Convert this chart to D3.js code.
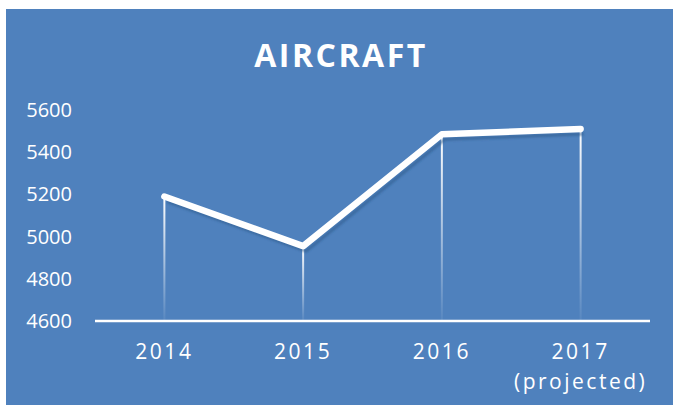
<!DOCTYPE html>
<html lang="en">
<head>
    <meta charset="UTF-8">
    <title>Aircraft</title>
    <script src="https://d3js.org/d3.v7.min.js"></script>
    <style>
        body { margin: 0; padding: 0; background: #fff; }
        svg { display: block; }
        text { font-family: "Open Sans", "Liberation Sans", sans-serif; fill: #fff; }
    </style>
</head>
<body>
    <svg width="673" height="405"></svg>
    <script>
        const years = ["2014", "2015", "2016", "2017"];
        const yearNotes = ["", "", "", "(projected)"];
        const aircraft = [5190, 4955, 5485, 5510];
        const yTicks = [4600, 4800, 5000, 5200, 5400, 5600];

        const svg = d3.select("svg");
        const margin = { top: 110, right: 23, bottom: 84, left: 95 };
        const width = 673 - margin.left - margin.right;
        const height = 405 - margin.top - margin.bottom;

        svg.append("rect")
            .attr("x", 6).attr("y", 9)
            .attr("width", 667).attr("height", 396)
            .attr("fill", "#4f81bd");

        svg.append("text")
            .attr("x", 341).attr("y", 67)
            .attr("text-anchor", "middle")
            .style("font-size", "32px")
            .style("font-weight", "bold")
            .style("letter-spacing", "2.5px")
            .text("AIRCRAFT");

        const defs = svg.append("defs");
        const grad = defs.append("linearGradient")
            .attr("id", "drop").attr("x1", 0).attr("y1", 0).attr("x2", 0).attr("y2", 1);
        grad.append("stop").attr("offset", "0%").attr("stop-color", "#fff").attr("stop-opacity", 1);
        grad.append("stop").attr("offset", "100%").attr("stop-color", "#fff").attr("stop-opacity", 0.05);
        defs.append("filter").attr("id", "blur")
            .append("feGaussianBlur").attr("stdDeviation", 1);

        const g = svg.append("g").attr("transform", `translate(${margin.left},${margin.top})`);

        const x = d3.scaleBand().domain(years).range([0, width]);
        const y = d3.scaleLinear().domain([4600, 5600]).range([height, 0]);

        const data = years.map((yr, i) => ({ year: yr, value: aircraft[i], note: yearNotes[i] }));

        // y axis labels
        const yAxis = g.append("g")
            .call(d3.axisLeft(y).tickValues(yTicks).tickFormat(d3.format("d")).tickSize(0).tickPadding(23));
        yAxis.select(".domain").remove();
        yAxis.selectAll("text")
            .attr("fill", "#fff")
            .style("font-size", "20px")
            .style("font-family", "'Open Sans', 'Liberation Sans', sans-serif");

        // drop lines
        g.selectAll(".drop")
            .data(data)
            .enter()
            .append("rect")
            .attr("x", d => x(d.year) + x.bandwidth() / 2 - 1)
            .attr("y", d => y(d.value))
            .attr("width", 2)
            .attr("height", d => height - y(d.value))
            .attr("fill", "url(#drop)");

        // x axis line
        g.append("line")
            .attr("x1", 0).attr("x2", width)
            .attr("y1", height).attr("y2", height)
            .attr("stroke", "#fff").attr("stroke-width", 2.5);

        // x labels
        const xl = g.selectAll(".xl")
            .data(data)
            .enter()
            .append("text")
            .attr("x", d => x(d.year) + x.bandwidth() / 2)
            .attr("y", height + 38)
            .attr("text-anchor", "middle")
            .style("font-size", "21px")
            .style("letter-spacing", "2.5px");
        xl.append("tspan").text(d => d.year);
        xl.append("tspan")
            .attr("x", d => x(d.year) + x.bandwidth() / 2)
            .attr("dy", 30)
            .text(d => d.note);

        const line = d3.line()
            .x(d => x(d.year) + x.bandwidth() / 2)
            .y(d => y(d.value));

        // shadow
        g.append("path")
            .datum(data)
            .attr("d", line)
            .attr("transform", "translate(3,5)")
            .attr("fill", "none")
            .attr("stroke", "#2d5a8c")
            .attr("stroke-opacity", 0.6)
            .attr("stroke-width", 3)
            .attr("filter", "url(#blur)");

        g.append("path")
            .datum(data)
            .attr("d", line)
            .attr("fill", "none")
            .attr("stroke", "#fff")
            .attr("stroke-width", 6.5)
            .attr("stroke-linecap", "round")
            .attr("stroke-linejoin", "round");
    </script>
</body>
</html>
